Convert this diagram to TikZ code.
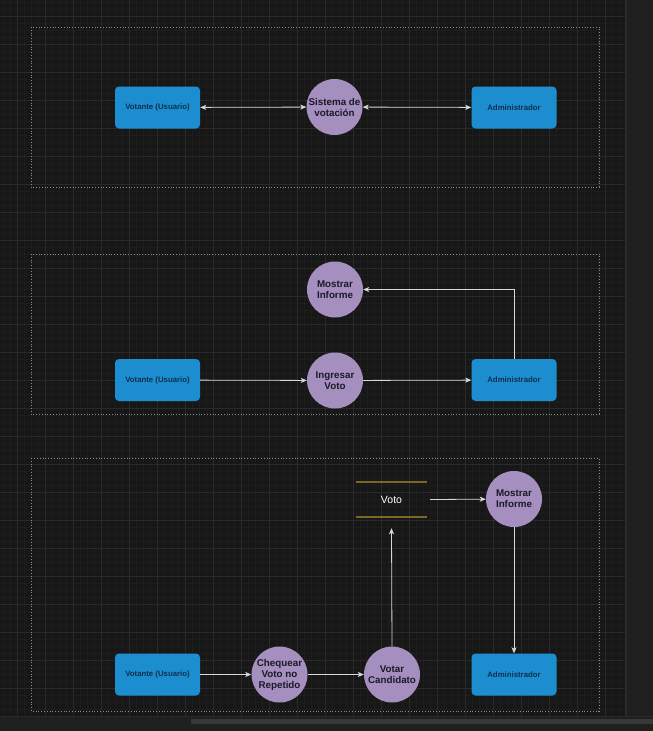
\documentclass[tikz,border=0pt]{standalone}
\usepackage{fontspec}
\setmainfont{Liberation Sans}
\usetikzlibrary{arrows.meta}
\definecolor{canvasbg}{HTML}{171717}
\definecolor{gridminor}{HTML}{1D1D1D}
\definecolor{gridmajor}{HTML}{2A2A2A}
\definecolor{entityfill}{HTML}{1C8ECF}
\definecolor{entitytext}{HTML}{0E2F4E}
\definecolor{procfill}{HTML}{A48FBE}
\definecolor{proctext}{HTML}{1B1828}
\definecolor{votoline}{RGB}{122,104,36}
\definecolor{flowcol}{HTML}{D8D8D8}
\definecolor{framecol}{HTML}{8C8C8C}
\tikzset{
    entity/.style={draw=none, fill=entityfill, rounded corners=4pt,
        minimum width=85pt, minimum height=42pt, inner sep=1pt,
        text=entitytext, font=\fontsize{7.8}{9}\selectfont\bfseries},
    process/.style={circle, draw=none, fill=procfill, minimum size=56pt,
        inner sep=0pt, align=center, text=proctext,
        font=\fontsize{9.8}{11}\selectfont\bfseries},
    store/.style={minimum width=71pt, minimum height=35pt, inner sep=0pt,
        text=white, font=\fontsize{10.5}{12}\selectfont},
    storeedge/.style={fill=votoline, draw=none},
    flow/.style={flowcol, line width=0.8pt,
        -{Stealth[length=6pt, width=5pt, inset=1.5pt]}},
    twoway/.style={flow, {Stealth[length=6pt, width=5pt, inset=1.5pt]}-{Stealth[length=6pt, width=5pt, inset=1.5pt]}},
    frame/.style={framecol, line width=0.8pt, dotted}
}
\begin{document}
\begin{tikzpicture}[x=1pt, y=-1pt]
    % canvas and grid
    \fill[canvasbg] (0,0) rectangle (653,731);
    \useasboundingbox (0,0) rectangle (653,731);
    \foreach \gx in {3,10,...,624} \draw[gridminor, line width=0.5pt] (\gx,0) -- (\gx,716);
    \foreach \gy in {2,9,...,715} \draw[gridminor, line width=0.5pt] (0,\gy) -- (625,\gy);
    \foreach \gx in {17,45,...,624} \draw[gridmajor, line width=0.8pt] (\gx,0) -- (\gx,716);
    \foreach \gy in {16,44,...,715} \draw[gridmajor, line width=0.8pt] (0,\gy) -- (625,\gy);
    \fill[black!88!white] (626,0) rectangle (653,716);
    \draw[gridmajor, line width=2pt] (626,0) -- (626,716);
    \fill[black!88!white] (0,716) rectangle (653,731);
    \draw[gridmajor, line width=1pt] (0,716.5) -- (653,716.5);
    \fill[black!78!white] (191,719) rectangle (653,724);

    % containers
    \draw[frame] (31,27) rectangle (599,187);
    \draw[frame] (31,254) rectangle (599,414);
    \draw[frame] (31,458) rectangle (599,711);

    % first level
    \node[entity] (votante1) at (157.5,107.5) {Votante (Usuario)};
    \node[process] (sistema) at (334.5,107) {Sistema de\\votación};
    \node[entity] (admin1) at (514,107.5) {Administrador};
    \draw[twoway] (votante1) -- (sistema);
    \draw[twoway] (sistema) -- (admin1);

    % second level
    \node[process] (mostrar2) at (335,289.5) {Mostrar\\Informe};
    \node[entity] (votante2) at (157.5,380) {Votante (Usuario)};
    \node[process] (ingresar) at (335,380.5) {Ingresar\\Voto};
    \node[entity] (admin2) at (514,380) {Administrador};
    \draw[flow] (votante2) -- (ingresar);
    \draw[flow] (ingresar) -- (admin2);
    \draw[flow] (admin2.north) |- (mostrar2.east);

    % third level
    \node[store] (voto) at (391.5,499.5) {Voto};
    \path[storeedge] ([yshift=1pt]voto.north west) rectangle ([yshift=-1pt]voto.north east);
    \path[storeedge] ([yshift=1pt]voto.south west) rectangle ([yshift=-1pt]voto.south east);
    \node[process] (mostrar3) at (514,499) {Mostrar\\Informe};
    \node[entity] (votante3) at (157.5,674.5) {Votante (Usuario)};
    \node[process] (chequear) at (279.5,674.5) {Chequear\\Voto no\\Repetido};
    \node[process] (votar) at (392,674.5) {Votar\\Candidato};
    \node[entity] (admin3) at (514,674.5) {Administrador};
    \draw[flow] (votante3) -- (chequear);
    \draw[flow] (chequear) -- (votar);
    \draw[flow] (votar.north) -- ([yshift=-11pt]voto.south);
    \draw[flow] ([xshift=3pt]voto.east) -- (mostrar3);
    \draw[flow] (mostrar3) -- (admin3);
\end{tikzpicture}
\end{document}
